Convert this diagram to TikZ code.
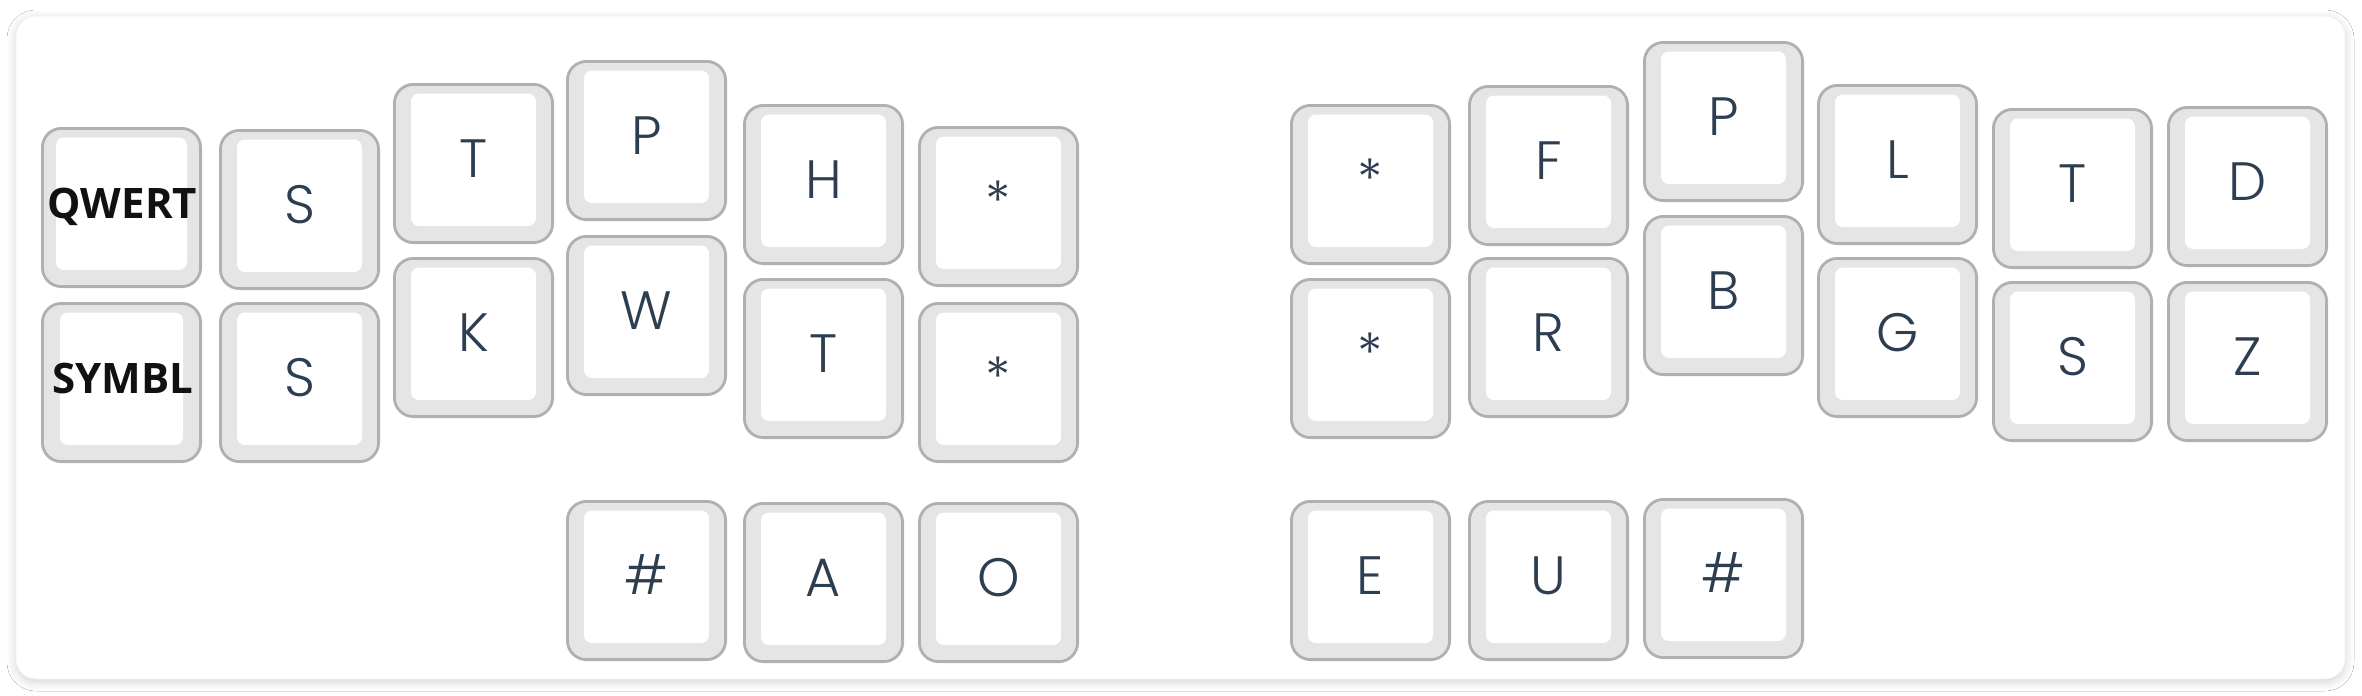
\documentclass[tikz,border=0pt]{standalone}
\usepackage{fontspec}
\setmainfont{Poppins Light}
\newfontfamily\qfont{Open Sans}
\usetikzlibrary{shadows.blur}
\definecolor{keyfill}{HTML}{E5E5E5}
\definecolor{keyline}{HTML}{B0B0B0}
\definecolor{keytext}{HTML}{2C3E50}
\definecolor{qtext}{HTML}{111111}
\tikzset{
  keyouter/.style={fill=keyfill, draw=keyline, line width=2.8pt, rounded corners=19pt},
  keyinner/.style={fill=white, rounded corners=8pt},
  keylabel/.style={text=keytext, inner sep=0pt, font=\fontsize{54}{54}\selectfont},
  modlabel/.style={text=qtext, inner sep=0pt, font=\qfont\bfseries\fontsize{42}{42}\selectfont},
  panel/.style={fill=white, draw=black!5, line width=0.8pt, rounded corners=20pt,
    blur shadow={shadow xshift=0pt, shadow yshift=-3pt, shadow blur radius=9pt, shadow opacity=18}}
}
% #1 name, #2 x, #3 y (top), #4 label
\newcommand\keycap[4]{%
  \draw[keyouter] (#2+1.4,#3+1.4) rectangle ++(158.2,158.2);
  \fill[keyinner] (#2+18,#3+10.5) rectangle ++(125,132.5);
  \node[keylabel, anchor=base] (#1) at (#2+80.5,#3+94.5) {#4};
}
% modifier key with wider inner area: #1 name, #2 x, #3 y, #4 label, #5 inner inset
\newcommand\modcap[5]{%
  \draw[keyouter] (#2+1.4,#3+1.4) rectangle ++(158.2,158.2);
  \fill[keyinner] (#2+#5,#3+10.5) rectangle (#2+161-#5,#3+143);
  \node[modlabel, anchor=base] (#1) at (#2+81.5,#3+91) {#4};
}
\begin{document}
\begin{tikzpicture}[x=1pt,y=-1pt]
\useasboundingbox (0,0) rectangle (2362,696);
\fill[white] (0,0) rectangle (2362,696);
\path[panel] (16,16) rectangle (2345,679);
% left half, upper row
\modcap{qwert}{41}{127}{QWERT}{15}
\keycap{ls1}{219}{129}{S}
\keycap{lt}{393}{83}{T}
\keycap{lp}{566}{60}{P}
\keycap{lh}{743}{104}{H}
\keycap{lst1}{918}{126}{*}
% left half, lower row
\modcap{symbl}{41}{302}{SYMBL}{19}
\keycap{ls2}{219}{302}{S}
\keycap{lk}{393}{257}{K}
\keycap{lw}{566}{235}{W}
\keycap{lr}{743}{278}{T}
\keycap{lst2}{918}{302}{*}
% left thumbs
\keycap{lnum}{566}{500}{\#}
\keycap{la}{743}{502}{A}
\keycap{lo}{918}{502}{O}
% right half, upper row
\keycap{rst1}{1290}{104}{*}
\keycap{rf}{1468}{85}{F}
\keycap{rp}{1643}{41}{P}
\keycap{rl}{1817}{84}{L}
\keycap{rt}{1992}{108}{T}
\keycap{rd}{2167}{106}{D}
% right half, lower row
\keycap{rst2}{1290}{278}{*}
\keycap{rr}{1468}{257}{R}
\keycap{rb}{1643}{215}{B}
\keycap{rg}{1817}{257}{G}
\keycap{rs}{1992}{281}{S}
\keycap{rz}{2167}{281}{Z}
% right thumbs
\keycap{re}{1290}{500}{E}
\keycap{ru}{1468}{500}{U}
\keycap{rnum}{1643}{498}{\#}
\end{tikzpicture}
\end{document}
